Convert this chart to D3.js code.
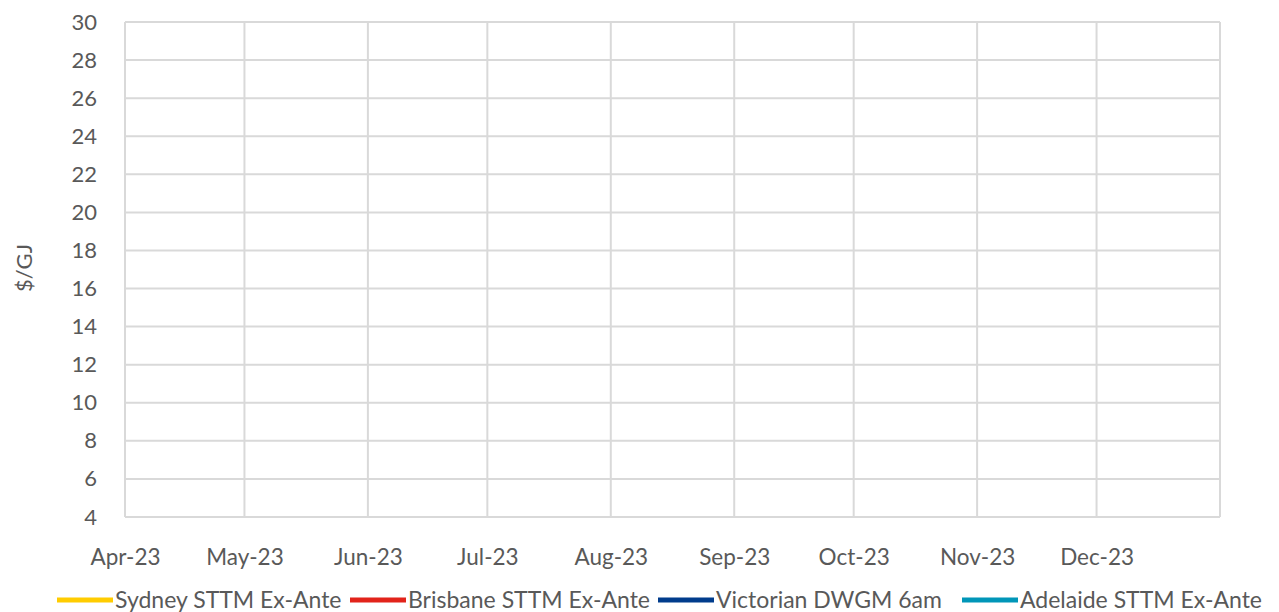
<!DOCTYPE html>
<html>
<head>
<meta charset="utf-8">
<script src="https://cdn.jsdelivr.net/npm/d3@7"></script>
<style>
  html, body { margin: 0; padding: 0; background: #ffffff; }
  svg { display: block; }
  text { font-family: "Lato", "Open Sans", sans-serif; fill: #595959; }
</style>
</head>
<body>
<svg id="chart" width="1279" height="612"></svg>
<script>
// ---- data ----
const monthLabels = ["Apr-23","May-23","Jun-23","Jul-23","Aug-23","Sep-23","Oct-23","Nov-23","Dec-23"];
const yTicks = [4,6,8,10,12,14,16,18,20,22,24,26,28,30];
const seriesNames = ["Sydney STTM Ex-Ante","Brisbane STTM Ex-Ante","Victorian DWGM 6am","Adelaide STTM Ex-Ante"];
const seriesColors = ["#ffcc00","#e2231a","#003c8c","#0096b8"];
// No data points are drawn in the reference chart (empty series)
const sydneyValues = [];
const brisbaneValues = [];
const victorianValues = [];
const adelaideValues = [];
const seriesValues = [sydneyValues, brisbaneValues, victorianValues, adelaideValues];

// ---- layout ----
const svg = d3.select("#chart");
const plotLeft = 125, plotRight = 1220, plotTop = 22, plotBottom = 517;
const parse = d3.timeParse("%b-%y");
const monthDates = monthLabels.map(parse);
const x = d3.scaleTime()
  .domain([monthDates[0], d3.timeMonth.offset(monthDates[monthDates.length-1], 1)])
  .range([plotLeft, plotRight]);
const y = d3.scaleLinear().domain([4, 30]).range([plotBottom, plotTop]);

const grid = svg.append("g");
grid.selectAll("line.h").data(yTicks).enter().append("line")
  .attr("class", "h")
  .attr("x1", plotLeft).attr("x2", plotRight)
  .attr("y1", d => y(d)).attr("y2", d => y(d))
  .attr("stroke", "#d9d9d9").attr("stroke-width", 2);
const vDates = monthDates.concat([x.domain()[1]]);
grid.selectAll("line.v").data(vDates).enter().append("line")
  .attr("class", "v")
  .attr("x1", d => x(d)).attr("x2", d => x(d))
  .attr("y1", plotTop).attr("y2", plotBottom)
  .attr("stroke", "#d9d9d9").attr("stroke-width", 2);

// y axis labels
const yAxis = d3.axisLeft(y).tickValues(yTicks).tickSize(0).tickPadding(28);
const yg = svg.append("g").attr("transform", `translate(${plotLeft},0)`).call(yAxis);
yg.select(".domain").remove();
yg.selectAll("text").style("font-size", "22px").attr("fill", "#595959")
  .style("font-family", "Lato, sans-serif");

// x axis labels
const xAxis = d3.axisBottom(x).tickValues(monthDates).tickFormat(d3.timeFormat("%b-%y")).tickSize(0).tickPadding(32);
const xg = svg.append("g").attr("transform", `translate(0,${plotBottom})`).call(xAxis);
xg.select(".domain").remove();
xg.selectAll("text").style("font-size", "22.5px").attr("fill", "#595959")
  .style("font-family", "Lato, sans-serif");

// y axis title
svg.append("text")
  .attr("transform", `translate(32,268) rotate(-90)`)
  .attr("text-anchor", "middle")
  .style("font-size", "22px")
  .text("$/GJ");

// series lines (empty in reference)
const line = d3.line().x(d => x(d.date)).y(d => y(d.value));
svg.append("g").selectAll("path").data(seriesValues).enter().append("path")
  .attr("d", d => d.length ? line(d) : null)
  .attr("fill", "none")
  .attr("stroke", (d, i) => seriesColors[i])
  .attr("stroke-width", 3);

// legend
const legendX = [57, 350, 658, 962];
const lg = svg.append("g");
seriesNames.forEach((name, i) => {
  const lx = legendX[i];
  lg.append("line")
    .attr("x1", lx).attr("x2", lx + 56)
    .attr("y1", 600).attr("y2", 600)
    .attr("stroke", seriesColors[i]).attr("stroke-width", 5);
  lg.append("text")
    .attr("x", lx + 58).attr("y", 608)
    .style("font-size", "23px")
    .text(name);
});
</script>
</body>
</html>
